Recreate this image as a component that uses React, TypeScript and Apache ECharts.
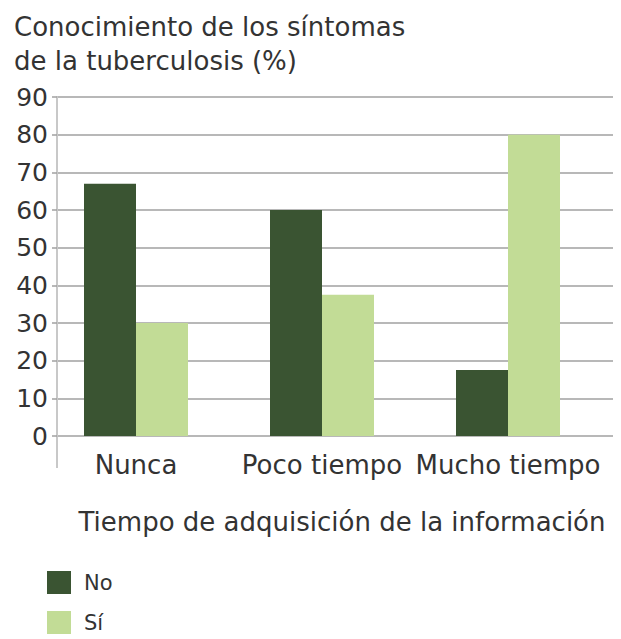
import React, { useEffect, useRef } from "react";
import * as echarts from "echarts";

const categories = ["Nunca", "Poco tiempo", "Mucho tiempo"];
const noValues = [67, 60, 17.5];
const siValues = [30, 37.5, 80];
const yTicks = [0, 10, 20, 30, 40, 50, 60, 70, 80, 90];
const seriesNames = ["No", "Sí"];

const FONT = "DejaVu Sans";
const TXT = "#333333";

export default function App() {
  const ref = useRef<HTMLDivElement>(null);
  useEffect(() => {
    const chart = echarts.init(ref.current!, null, { renderer: "svg" });
    const top = 97;
    const bottom = 639 - 436;
    const legendText = { fontFamily: FONT, fontSize: 21, color: TXT, padding: [0, 0, 0, 8] };
    chart.setOption({
      animation: false,
      backgroundColor: "#ffffff",
      title: [
        {
          text: "Conocimiento de los síntomas\nde la tuberculosis (%)",
          left: 9,
          top: 5,
          textStyle: { fontFamily: FONT, fontSize: 26, fontWeight: "normal", color: TXT, lineHeight: 34 },
        },
      ],
      legend: [
        {
          orient: "vertical",
          left: 47,
          top: 571,
          padding: 0,
          itemWidth: 24,
          itemHeight: 23,
          icon: "rect",
          data: [seriesNames[0]],
          textStyle: legendText,
        },
        {
          orient: "vertical",
          left: 47,
          top: 611,
          padding: 0,
          itemWidth: 24,
          itemHeight: 23,
          icon: "rect",
          data: [seriesNames[1]],
          textStyle: legendText,
        },
      ],
      grid: [
        { left: 57, right: 8, top, bottom },
        { left: 43, right: 20, top, bottom },
      ],
      xAxis: [
        { gridIndex: 0, type: "value", show: false, min: 0, max: 1 },
        {
          gridIndex: 1,
          type: "category",
          data: categories,
          axisLine: { show: false },
          axisTick: { show: false },
          axisLabel: { fontFamily: FONT, fontSize: 26, color: TXT, margin: 16, interval: 0 },
        },
      ],
      yAxis: [
        {
          gridIndex: 0,
          type: "value",
          min: yTicks[0],
          max: yTicks[yTicks.length - 1],
          interval: 10,
          axisLine: { show: true, lineStyle: { color: "#c8c8c8", width: 2 } },
          axisTick: { show: true, length: 5, lineStyle: { color: "#a0a0a0", width: 1.5 } },
          splitLine: { show: true, lineStyle: { color: "#a0a0a0", width: 1.5 } },
          axisLabel: { fontFamily: FONT, fontSize: 25, color: TXT, margin: 9 },
        },
        {
          gridIndex: 1,
          type: "value",
          min: yTicks[0],
          max: yTicks[yTicks.length - 1],
          interval: 10,
          show: false,
          splitLine: { show: false },
        },
      ],
      series: [
        {
          name: seriesNames[0],
          type: "bar",
          xAxisIndex: 1,
          yAxisIndex: 1,
          data: noValues,
          barWidth: 52,
          barGap: "0%",
          itemStyle: { color: "#3a5432" },
        },
        {
          name: seriesNames[1],
          type: "bar",
          xAxisIndex: 1,
          yAxisIndex: 1,
          data: siValues,
          barWidth: 52,
          barGap: "0%",
          itemStyle: { color: "#c2dc96" },
        },
      ],
      graphic: [
        {
          type: "line",
          shape: { x1: 57, y1: 436, x2: 57, y2: 468 },
          style: { stroke: "#c8c8c8", lineWidth: 2 },
        },
        {
          type: "text",
          x: 342,
          y: 522,
          style: {
            text: "Tiempo de adquisición de la información",
            fontFamily: FONT,
            fontSize: 26,
            fill: TXT,
            align: "center",
            verticalAlign: "middle",
          },
        },
      ],
    });
    return () => chart.dispose();
  }, []);
  return (
    <div
      ref={ref}
      style={{ position: "fixed", left: 0, top: 0, width: 621, height: 639 }}
    />
  );
}
